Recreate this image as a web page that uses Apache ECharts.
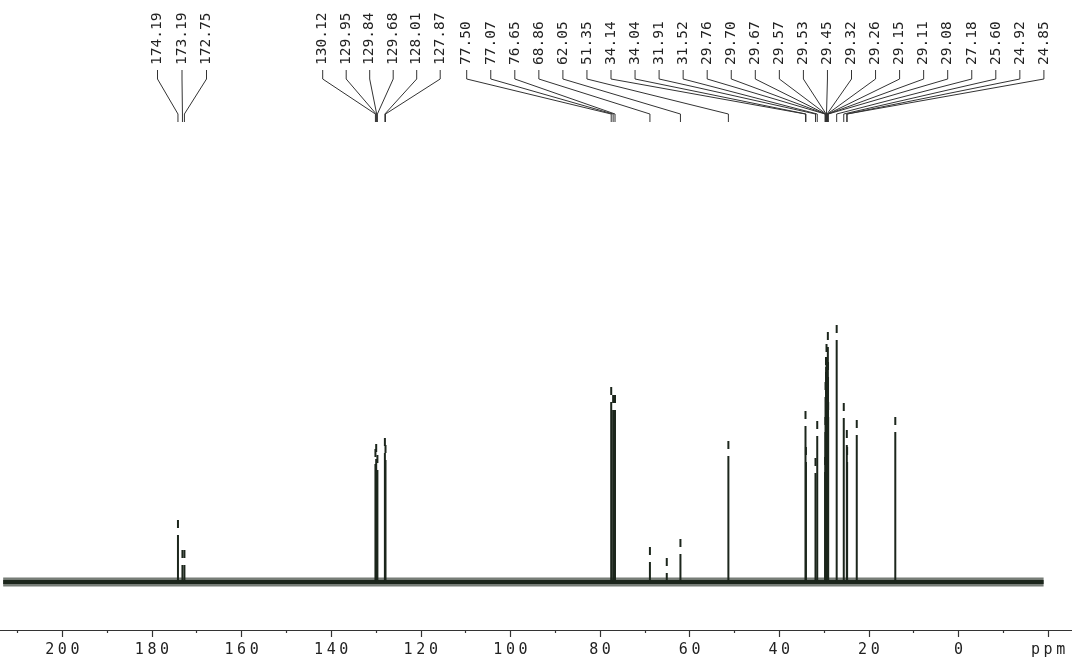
<!DOCTYPE html>
<html>
<head>
<meta charset="utf-8">
<script src="https://cdn.jsdelivr.net/npm/echarts@6/dist/echarts.min.js"></script>
<style>html,body{margin:0;padding:0;background:#fff;}#c{width:1072px;height:660px;}</style>
</head>
<body>
<div id="c"></div>
<script>
// ---- data ----
const labelGroupA = [174.19, 173.19, 172.75];
const labelGroupB = [130.12, 129.95, 129.84, 129.68, 128.01, 127.87];
const labelGroupC = [77.50, 77.07, 76.65, 68.86, 62.05, 51.35, 34.14, 34.04, 31.91, 31.52,
  29.76, 29.70, 29.67, 29.57, 29.53, 29.45, 29.32, 29.26, 29.15, 29.11, 29.08,
  27.18, 25.60, 24.92, 24.85];
const peakPpm = [174.19, 173.19, 172.75, 130.12, 129.95, 129.84, 129.68, 128.01, 127.87,
  77.50, 77.07, 76.65, 68.86, 65.1, 62.05, 51.35, 34.14, 34.04, 31.91, 31.52,
  29.76, 29.70, 29.67, 29.57, 29.53, 29.45, 29.32, 29.26, 29.15, 29.11, 29.08,
  27.18, 25.60, 24.92, 24.85, 22.7, 14.1];
const peakHeight = [47, 17, 17, 118, 123, 58, 112, 129, 122,
  180, 172, 172, 20, 9, 28, 126, 156, 120, 109, 146,
  110, 150, 185, 210, 200, 223, 195, 175, 235, 205, 165,
  242, 164, 137, 120, 147, 150];
const baselineRange = [213.2, -19];
const axisTickLabels = [200, 180, 160, 140, 120, 100, 80, 60, 40, 20, 0, 'ppm'];

// ---- layout (pixels) ----
const groupStart = [157.5, 322.7, 466.7];
const groupStep = [24.5, 23.5, 24.05];
const ink = '#1c261c';

const labelData = [];
[labelGroupA, labelGroupB, labelGroupC].forEach((g, gi) => {
  g.forEach((v, i) => labelData.push([v, gi, i]));
});
const peakData = peakPpm.map((p, i) => [p, peakHeight[i]]);

const chart = echarts.init(document.getElementById('c'), null, {renderer: 'canvas'});

function spaced(s) {
  return s.split('').map(ch => '{a|' + ch + '}').join('{s| }');
}

chart.setOption({
  backgroundColor: '#fff',
  animation: false,
  grid: {left: -27.3, right: -65.7, top: 0, bottom: 30, containLabel: false, outerBoundsMode: 'none'},
  xAxis: {
    type: 'value', inverse: true, min: -40, max: 220, interval: 20,
    axisLine: {show: true, onZero: false, lineStyle: {color: '#333', width: 1.2}},
    axisTick: {show: true, length: 7, lineStyle: {color: '#333', width: 1.2}},
    minorTick: {show: true, splitNumber: 2, length: 3, lineStyle: {color: '#333', width: 1.2}},
    splitLine: {show: false},
    axisLabel: {
      margin: 13,
      formatter: function (v) {
        if (v === -20) return spaced(String(axisTickLabels[axisTickLabels.length - 1]));
        if (axisTickLabels.indexOf(v) < 0) return '';
        return spaced(String(v));
      },
      rich: {
        a: {fontFamily: 'DejaVu Sans Mono', fontSize: 15, color: '#222'},
        s: {fontFamily: 'DejaVu Sans Mono', fontSize: 6, color: '#222'}
      }
    }
  },
  yAxis: {type: 'value', min: -48, max: 582, show: false},
  series: [
    {
      type: 'line', data: baselineRange.map(p => [p, 0]), symbol: 'none', silent: true,
      lineStyle: {color: ink, width: 9, opacity: 0.6}, z: 1
    },
    {
      type: 'line', data: baselineRange.map(p => [p, 0]), symbol: 'none', silent: true,
      lineStyle: {color: ink, width: 4}, z: 2
    },
    {
      type: 'custom', data: peakData, clip: false, z: 3,
      renderItem: function (params, api) {
        const b = api.coord([api.value(0), 0]);
        const t = api.coord([api.value(0), api.value(1)]);
        return {
          type: 'group',
          children: [
            {type: 'line', shape: {x1: b[0], y1: b[1], x2: t[0], y2: t[1]}, style: {stroke: ink, lineWidth: 2}},
            {type: 'line', shape: {x1: t[0], y1: t[1] - 7, x2: t[0], y2: t[1] - 15}, style: {stroke: ink, lineWidth: 2}}
          ]
        };
      }
    },
    {
      type: 'custom', data: labelData, clip: false, z: 4,
      renderItem: function (params, api) {
        const ppm = api.value(0);
        const gi = api.value(1);
        const i = api.value(2);
        const px = api.coord([ppm, 0])[0];
        const lx = groupStart[gi] + i * groupStep[gi];
        return {
          type: 'group',
          children: [
            {type: 'polyline', shape: {points: [[lx, 70], [lx, 79], [px, 114], [px, 122]]},
              style: {stroke: '#333', lineWidth: 1, fill: null}},
            {type: 'text', x: lx, y: 65, rotation: Math.PI / 2,
              style: {text: ppm.toFixed(2), x: 0, y: 0, fill: '#222', align: 'left', verticalAlign: 'middle',
                font: '14.5px "DejaVu Sans Mono"'}}
          ]
        };
      }
    }
  ]
});
</script>
</body>
</html>
